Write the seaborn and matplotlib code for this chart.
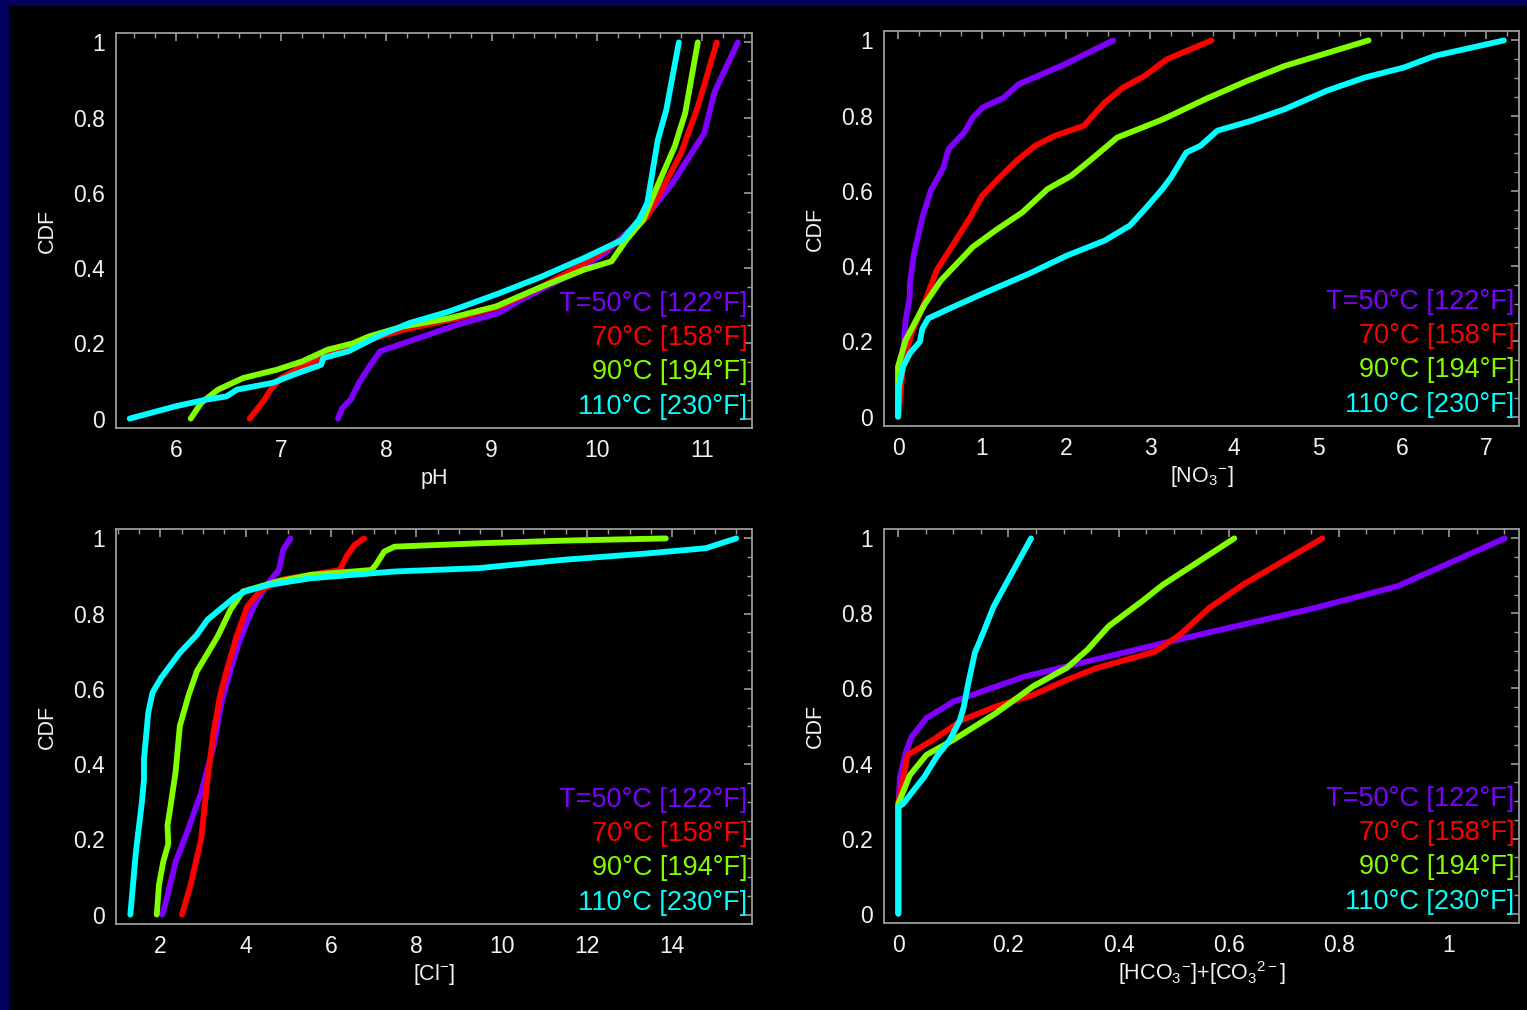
import numpy as np
import pandas as pd
import matplotlib
matplotlib.use("Agg")
import matplotlib.pyplot as plt
from matplotlib.patches import Rectangle
from matplotlib.ticker import MultipleLocator
import seaborn as sns

# ---------------------------------------------------------------- data
temps = ["T=50°C [122°F]", "70°C [158°F]", "90°C [194°F]", "110°C [230°F]"]
colors = ["#8000ff", "#ff0000", "#80ff00", "#00ffff"]

# pH
ph_x_50 = [7.54, 7.58, 7.66, 7.74, 7.84, 7.94, 8.68, 9.06, 9.28, 9.68, 10.08, 10.28, 10.44, 10.72, 10.96, 11.02, 11.12, 11.34]
ph_y_50 = [0.0, 0.028, 0.05, 0.095, 0.139, 0.179, 0.25, 0.28, 0.316, 0.373, 0.44, 0.493, 0.528, 0.626, 0.732, 0.758, 0.869, 1.0]
ph_x_70 = [6.70, 6.78, 6.84, 6.90, 7.0, 7.2, 7.4, 7.68, 8.16, 8.68, 9.08, 9.48, 9.88, 10.28, 10.48, 10.60, 10.80, 10.96, 11.14]
ph_y_70 = [0.0, 0.028, 0.05, 0.077, 0.108, 0.139, 0.165, 0.196, 0.236, 0.267, 0.298, 0.351, 0.413, 0.484, 0.537, 0.599, 0.705, 0.829, 1.0]
ph_x_90 = [6.14, 6.24, 6.40, 6.64, 6.96, 7.20, 7.44, 7.68, 7.84, 8.16, 8.60, 9.04, 9.48, 9.88, 10.14, 10.28, 10.44, 10.56, 10.74, 10.84, 10.96]
ph_y_90 = [0.0, 0.042, 0.077, 0.108, 0.130, 0.152, 0.183, 0.2, 0.219, 0.245, 0.267, 0.298, 0.351, 0.396, 0.418, 0.475, 0.528, 0.608, 0.723, 0.812, 1.0]
ph_x_110 = [5.56, 6.0, 6.28, 6.48, 6.58, 6.92, 7.12, 7.38, 7.40, 7.64, 7.92, 8.22, 8.60, 9.08, 9.48, 9.88, 10.24, 10.40, 10.48, 10.58, 10.66, 10.78]
ph_y_110 = [0.0, 0.033, 0.05, 0.059, 0.077, 0.095, 0.117, 0.143, 0.161, 0.179, 0.219, 0.254, 0.285, 0.334, 0.378, 0.427, 0.475, 0.528, 0.573, 0.741, 0.820, 1.0]

# nitrate
no3_x_50 = [0.0, 0.035, 0.06, 0.09, 0.14, 0.14, 0.19, 0.29, 0.39, 0.54, 0.60, 0.79, 0.89, 1.01, 1.26, 1.43, 1.71, 1.98, 2.56]
no3_y_50 = [0.0, 0.08, 0.168, 0.256, 0.318, 0.353, 0.433, 0.530, 0.601, 0.662, 0.711, 0.756, 0.795, 0.822, 0.848, 0.883, 0.910, 0.936, 1.0]
no3_x_70 = [0.0, 0.015, 0.06, 0.16, 0.31, 0.46, 0.66, 0.86, 1.0, 1.21, 1.41, 1.63, 1.86, 2.21, 2.46, 2.68, 2.93, 3.20, 3.73]
no3_y_70 = [0.0, 0.022, 0.141, 0.221, 0.300, 0.389, 0.459, 0.530, 0.587, 0.636, 0.680, 0.72, 0.746, 0.773, 0.835, 0.875, 0.905, 0.95, 1.0]
no3_x_90 = [0.0, 0.0, 0.09, 0.31, 0.51, 0.89, 1.16, 1.48, 1.78, 2.06, 2.28, 2.61, 2.86, 3.15, 3.65, 4.15, 4.60, 5.60]
no3_y_90 = [0.0, 0.133, 0.203, 0.296, 0.362, 0.451, 0.495, 0.543, 0.605, 0.640, 0.680, 0.742, 0.764, 0.790, 0.843, 0.892, 0.932, 1.0]
no3_x_110 = [0.0, 0.01, 0.06, 0.14, 0.26, 0.29, 0.36, 0.61, 1.01, 1.56, 2.01, 2.46, 2.76, 2.96, 3.15, 3.25, 3.43, 3.60, 3.80, 4.20, 4.60, 5.10, 5.55, 6.02, 6.39, 7.21]
no3_y_110 = [0.0, 0.08, 0.133, 0.168, 0.199, 0.234, 0.261, 0.287, 0.327, 0.380, 0.428, 0.468, 0.508, 0.557, 0.606, 0.636, 0.702, 0.720, 0.760, 0.786, 0.817, 0.866, 0.901, 0.928, 0.959, 1.0]

# chloride
cl_x_50 = [2.05, 2.17, 2.36, 2.66, 2.96, 3.25, 3.45, 3.65, 3.84, 4.09, 4.29, 4.53, 4.78, 4.88, 5.05]
cl_y_50 = [0.0, 0.05, 0.14, 0.228, 0.325, 0.448, 0.572, 0.651, 0.722, 0.793, 0.841, 0.881, 0.916, 0.969, 1.0]
cl_x_70 = [2.51, 2.71, 2.96, 3.11, 3.25, 3.40, 3.54, 3.79, 4.04, 4.33, 4.83, 5.52, 6.21, 6.36, 6.55, 6.78]
cl_y_70 = [0.0, 0.078, 0.201, 0.36, 0.484, 0.581, 0.642, 0.74, 0.819, 0.859, 0.890, 0.903, 0.916, 0.951, 0.982, 1.0]
cl_x_90 = [1.92, 1.97, 2.07, 2.19, 2.17, 2.22, 2.36, 2.46, 2.66, 2.86, 3.35, 3.65, 3.94, 4.73, 5.52, 6.95, 7.05, 7.25, 7.49, 9.47, 11.44, 13.85]
cl_y_90 = [0.0, 0.078, 0.14, 0.188, 0.237, 0.272, 0.378, 0.501, 0.581, 0.647, 0.74, 0.811, 0.859, 0.885, 0.903, 0.916, 0.929, 0.965, 0.978, 0.987, 0.994, 1.0]
cl_x_110 = [1.30, 1.43, 1.57, 1.62, 1.62, 1.72, 1.82, 2.02, 2.46, 2.86, 3.11, 3.75, 3.99, 4.53, 5.52, 7.49, 9.47, 11.44, 13.41, 14.79, 15.50]
cl_y_110 = [0.0, 0.166, 0.298, 0.36, 0.413, 0.537, 0.59, 0.629, 0.696, 0.744, 0.784, 0.844, 0.859, 0.876, 0.894, 0.912, 0.921, 0.943, 0.960, 0.974, 1.0]

# bicarbonate + carbonate
hco3_x_50 = [0.0, 0.0, 0.003, 0.013, 0.024, 0.051, 0.100, 0.169, 0.230, 0.329, 0.405, 0.481, 0.610, 0.755, 0.907, 1.101]
hco3_y_50 = [0.0, 0.284, 0.364, 0.427, 0.471, 0.521, 0.565, 0.601, 0.632, 0.667, 0.694, 0.721, 0.765, 0.814, 0.873, 1.0]
hco3_x_70 = [0.0, 0.0, 0.017, 0.062, 0.116, 0.177, 0.245, 0.306, 0.359, 0.466, 0.511, 0.565, 0.626, 0.770]
hco3_y_70 = [0.0, 0.293, 0.423, 0.462, 0.516, 0.552, 0.583, 0.623, 0.654, 0.698, 0.743, 0.815, 0.877, 1.0]
hco3_x_90 = [0.0, 0.0, 0.021, 0.051, 0.100, 0.177, 0.245, 0.306, 0.344, 0.382, 0.443, 0.481, 0.610]
hco3_y_90 = [0.0, 0.293, 0.369, 0.423, 0.463, 0.534, 0.606, 0.655, 0.704, 0.766, 0.833, 0.877, 1.0]
hco3_x_110 = [0.0, 0.0, 0.009, 0.028, 0.047, 0.070, 0.093, 0.112, 0.119, 0.127, 0.139, 0.154, 0.173, 0.196, 0.241]
hco3_y_110 = [0.0, 0.284, 0.293, 0.329, 0.364, 0.419, 0.462, 0.516, 0.552, 0.614, 0.695, 0.748, 0.818, 0.880, 1.0]

x_labels = ["pH", "[NO$_3$$^{-}$]", "[Cl$^{-}$]", "[HCO$_3$$^{-}$]+[CO$_3$$^{2-}$]"]
x_ticks = [[6, 7, 8, 9, 10, 11], [0, 1, 2, 3, 4, 5, 6, 7],
           [2, 4, 6, 8, 10, 12, 14], [0, 0.2, 0.4, 0.6, 0.8, 1]]
x_tick_labels = [["6", "7", "8", "9", "10", "11"],
                 ["0", "1", "2", "3", "4", "5", "6", "7"],
                 ["2", "4", "6", "8", "10", "12", "14"],
                 ["0", "0.2", "0.4", "0.6", "0.8", "1"]]
y_ticks = [0, 0.2, 0.4, 0.6, 0.8, 1]
y_tick_labels = ["0", "0.2", "0.4", "0.6", "0.8", "1"]

# ---------------------------------------------------------------- style
sns.set_style("dark", {"axes.facecolor": "black", "figure.facecolor": "#03035f"})
plt.rcParams["font.family"] = ["Liberation Sans", "DejaVu Sans"]
plt.rcParams["mathtext.fontset"] = "custom"
plt.rcParams["mathtext.rm"] = "Liberation Sans"
plt.rcParams["mathtext.it"] = "Liberation Sans"
plt.rcParams["mathtext.default"] = "regular"

fig = plt.figure(figsize=(15.27, 10.10), dpi=100)
fig.patch.set_facecolor("#03035f")
fig.add_artist(Rectangle((9 / 1527, 0), 1, 1 - 6 / 1010, transform=fig.transFigure,
                         facecolor="black", edgecolor="none", zorder=0))

W, H = 1527, 1010
boxes = [(116, 33, 752, 428), (884, 31, 1519, 426),
         (116, 529, 752, 924), (884, 529, 1519, 923)]
xlims = [(5.43, 11.475), (-0.167, 7.39), (0.964, 15.87), (-0.026, 1.127)]
minor = [0.2, 0.25, 0.5, 0.05]

panels = [
    [(ph_x_50, ph_y_50), (ph_x_70, ph_y_70), (ph_x_90, ph_y_90), (ph_x_110, ph_y_110)],
    [(no3_x_50, no3_y_50), (no3_x_70, no3_y_70), (no3_x_90, no3_y_90), (no3_x_110, no3_y_110)],
    [(cl_x_50, cl_y_50), (cl_x_70, cl_y_70), (cl_x_90, cl_y_90), (cl_x_110, cl_y_110)],
    [(hco3_x_50, hco3_y_50), (hco3_x_70, hco3_y_70), (hco3_x_90, hco3_y_90), (hco3_x_110, hco3_y_110)],
]

text_color = "#f2f2f2"
spine_color = "#9a9a9a"

for i, (series, (l, t, r, b)) in enumerate(zip(panels, boxes)):
    ax = fig.add_axes([l / W, 1 - b / H, (r - l) / W, (b - t) / H])
    ax.set_facecolor("black")
    frames = []
    for name, (xs, ys) in zip(temps, series):
        frames.append(pd.DataFrame({"value": xs, "cdf": ys, "T": name,
                                    "order": np.arange(len(xs))}))
    df = pd.concat(frames, ignore_index=True)
    sns.lineplot(data=df, x="value", y="cdf", hue="T", palette=colors,
                 hue_order=temps, sort=False, estimator=None, legend=False,
                 linewidth=4.2, solid_capstyle="round", solid_joinstyle="round",
                 ax=ax)

    ax.set_xlim(*xlims[i])
    ax.set_ylim(-0.025, 1.025)
    ax.set_xticks(x_ticks[i])
    ax.set_xticklabels(x_tick_labels[i])
    ax.set_yticks(y_ticks)
    ax.set_yticklabels(y_tick_labels)
    ax.xaxis.set_minor_locator(MultipleLocator(minor[i]))
    ax.yaxis.set_minor_locator(MultipleLocator(0.05))
    ax.tick_params(which="both", direction="in", top=True, right=True,
                   color=spine_color, labelcolor=text_color, labelsize=16.5)
    ax.tick_params(which="major", length=6, width=1.2, pad=8)
    ax.tick_params(which="minor", length=3.5, width=1.0)
    ax.grid(False)
    for sp in ax.spines.values():
        sp.set_visible(True)
        sp.set_color(spine_color)
        sp.set_linewidth(1.3)

    ax.set_xlabel(x_labels[i], color=text_color, fontsize=15.5)
    ax.set_ylabel("CDF", color=text_color, fontsize=15.5)
    ax.xaxis.label.set_va("center")
    ax.yaxis.label.set_va("center")
    ax.xaxis.set_label_coords(0.5, -0.127)
    ax.yaxis.set_label_coords(-0.108, 0.5)

    # temperature key, right aligned in the lower right corner
    ys_key = [0.315, 0.228, 0.141, 0.054]
    for name, c, yk in zip(temps, colors, ys_key):
        ax.text(0.993, yk, name, color=c, fontsize=19.5, ha="right", va="center",
                transform=ax.transAxes)

fig.savefig("out.png", dpi=100, facecolor=fig.get_facecolor())
